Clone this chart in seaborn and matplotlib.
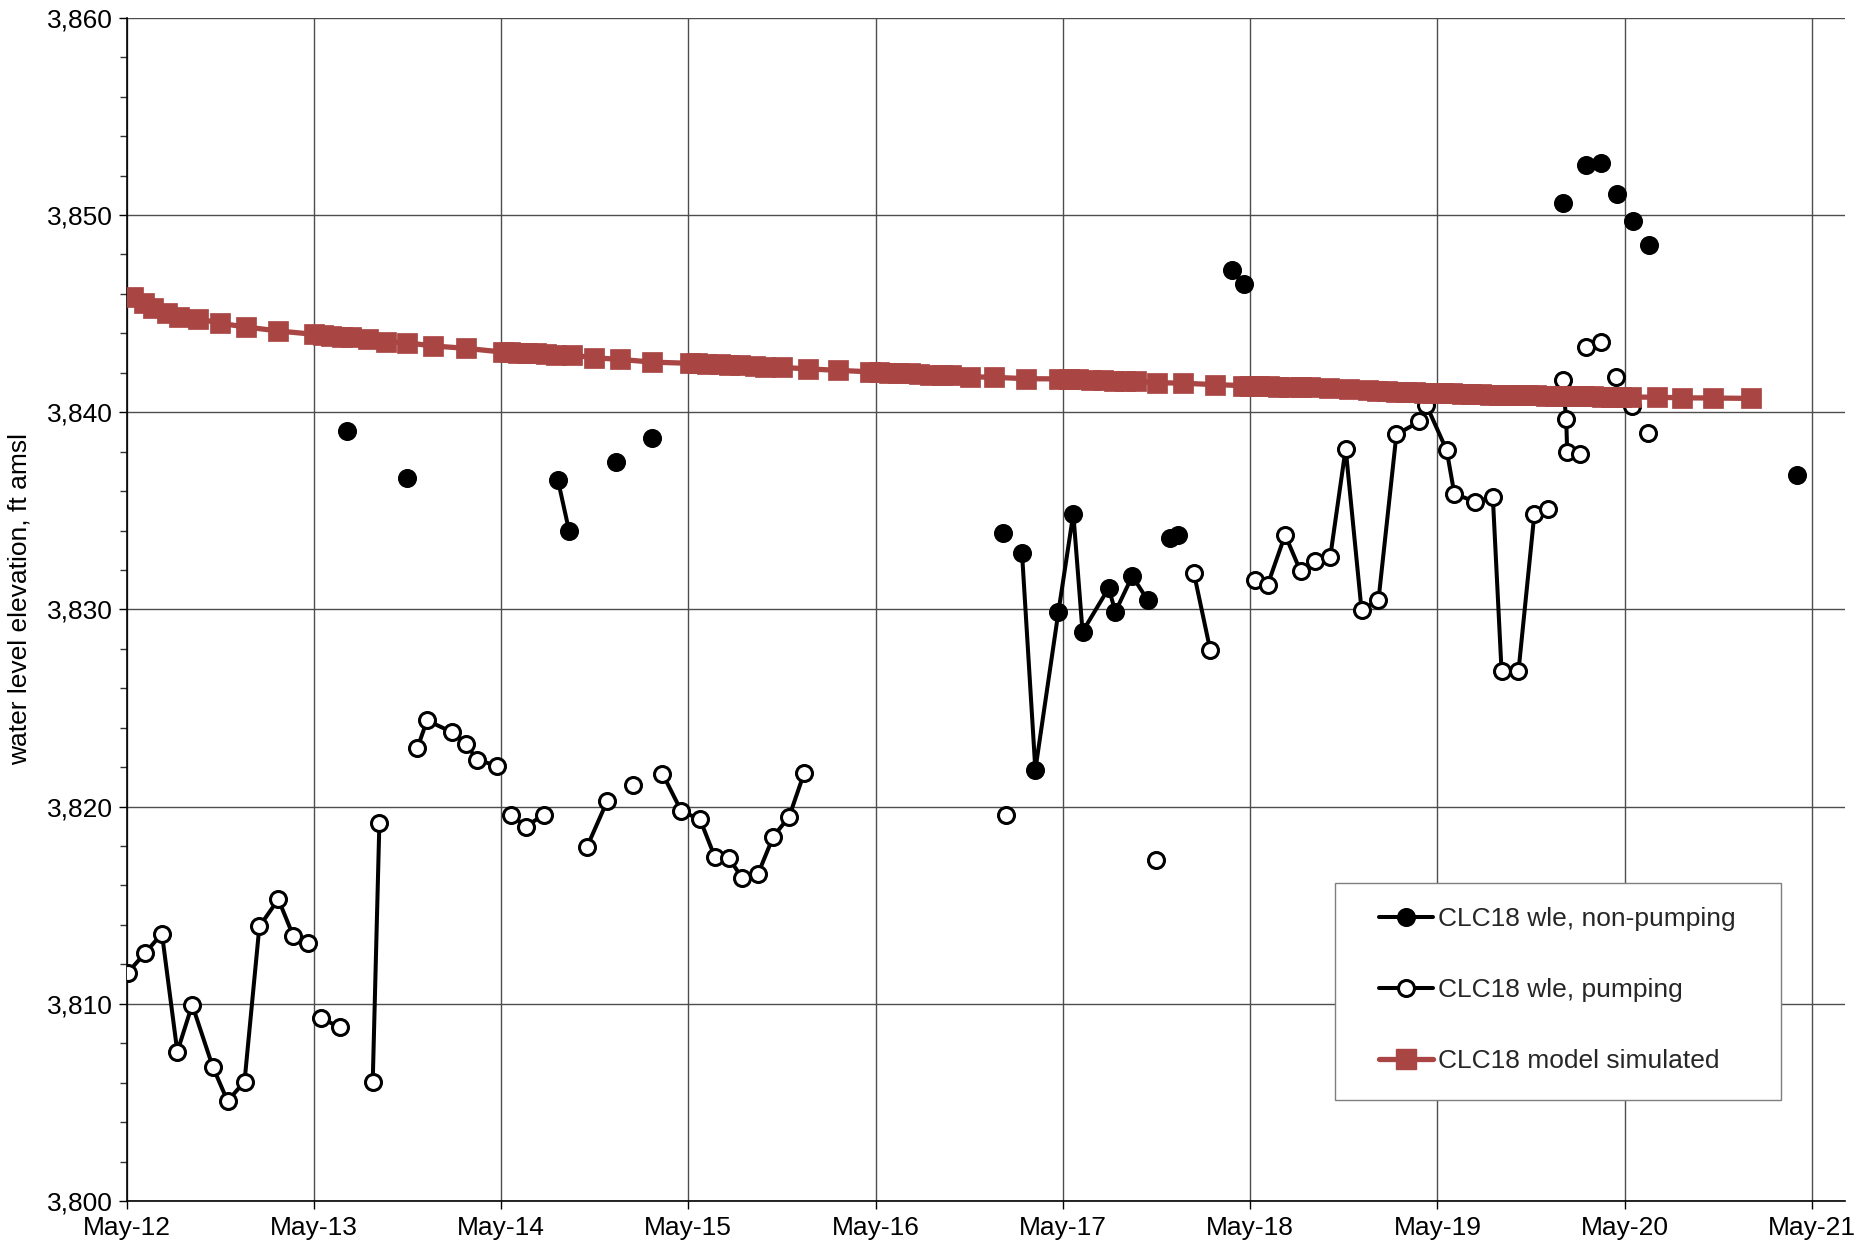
import matplotlib
matplotlib.use("Agg")
import matplotlib.pyplot as plt
import matplotlib.dates as mdates
import matplotlib.ticker as mticker
from matplotlib.lines import Line2D
from matplotlib.patches import Rectangle
import pandas as pd
import seaborn as sns

# --- Observed water levels, pumping (open circles); seg breaks the line ---
pump_dates = [
    "2012-05-03", "2012-06-06", "2012-07-09", "2012-08-08", "2012-09-06", "2012-10-16",
    "2012-11-14", "2012-12-17", "2013-01-15", "2013-02-21", "2013-03-22", "2013-04-20",
    "2013-05-16", "2013-06-21",
    "2013-08-24", "2013-09-06",
    "2013-11-19", "2013-12-08", "2014-01-25", "2014-02-21", "2014-03-16", "2014-04-23",
    "2014-05-20", "2014-06-19", "2014-07-23",
    "2014-10-16", "2014-11-24",
    "2015-01-13",
    "2015-03-12", "2015-04-18", "2015-05-24", "2015-06-22", "2015-07-20", "2015-08-14",
    "2015-09-14", "2015-10-14", "2015-11-14", "2015-12-13",
    "2017-01-09",
    "2017-10-30",
    "2018-01-11", "2018-02-12",
    "2018-05-11", "2018-06-04", "2018-07-08", "2018-08-07", "2018-09-05", "2018-10-04",
    "2018-11-03", "2018-12-04", "2019-01-06", "2019-02-10", "2019-03-27", "2019-04-09",
    "2019-05-19", "2019-06-03", "2019-07-14", "2019-08-17", "2019-09-03", "2019-10-06",
    "2019-11-06", "2019-12-02",
    "2019-12-31", "2020-01-07", "2020-01-09", "2020-02-03",
    "2020-02-14",
    "2020-03-14",
    "2020-04-14",
    "2020-05-15",
    "2020-06-15",
]
pump_wle = [
    3811.57, 3812.57, 3813.56, 3807.57, 3809.95, 3806.81,
    3805.07, 3806.05, 3813.92, 3815.30, 3813.45, 3813.06,
    3809.27, 3808.80,
    3806.05, 3819.19,
    3822.97, 3824.37, 3823.78, 3823.19, 3822.38, 3822.06,
    3819.59, 3818.99, 3819.59,
    3817.97, 3820.27,
    3821.08,
    3821.67, 3819.76, 3819.36, 3817.45, 3817.37, 3816.39,
    3816.57, 3818.48, 3819.49, 3821.69,
    3819.58,
    3817.28,
    3831.86, 3827.94,
    3831.47, 3831.25, 3833.78, 3831.94, 3832.45, 3832.67,
    3838.16, 3829.97, 3830.47, 3838.87, 3839.53, 3840.39,
    3838.07, 3835.86, 3835.46, 3835.69, 3826.87, 3826.87,
    3834.85, 3835.07,
    3841.62, 3839.68, 3837.99, 3837.89,
    3843.32,
    3843.57,
    3841.78,
    3840.34,
    3838.95,
]
pump_seg = (
    [1] * 12 + [2] * 2 + [3] * 2 + [4] * 6 + [5] * 3 + [6] * 2 + [7] + [8] * 10 + [9] + [10]
    + [11] * 2 + [12] * 20 + [13] * 4 + [14] + [15] + [16] + [17] + [18]
)

# --- Observed water levels, non-pumping (filled circles) ---
static_dates = [
    "2013-07-04",
    "2013-10-30",
    "2014-08-20", "2014-09-11",
    "2014-12-12",
    "2015-02-19",
    "2017-01-04",
    "2017-02-10", "2017-03-08", "2017-04-22", "2017-05-21", "2017-06-08", "2017-07-29",
    "2017-08-11", "2017-09-13", "2017-10-13",
    "2017-11-26", "2017-12-12",
    "2018-03-26", "2018-04-18",
    "2020-01-01",
    "2020-02-15",
    "2020-03-15",
    "2020-04-15",
    "2020-05-16",
    "2020-06-16",
    "2021-04-02",
]
static_wle = [
    3839.07,
    3836.67,
    3836.57, 3833.97,
    3837.47,
    3838.67,
    3833.85,
    3832.85, 3821.87, 3829.88, 3834.85, 3828.87, 3831.08,
    3829.88, 3831.69, 3830.47,
    3833.60, 3833.77,
    3847.19, 3846.48,
    3850.59,
    3852.52,
    3852.64,
    3851.06,
    3849.71,
    3848.46,
    3836.82,
]
static_seg = [1, 2, 3, 3, 4, 5, 6] + [7] * 9 + [8, 8, 9, 9, 10, 11, 12, 13, 14, 15, 16]

# --- Model simulated water levels ---
model_dates = [
    "2012-05-14", "2012-06-04", "2012-06-21", "2012-07-18", "2012-08-11", "2012-09-18",
    "2012-10-30", "2012-12-20", "2013-02-21", "2013-05-02", "2013-05-19", "2013-06-03",
    "2013-06-25", "2013-07-13", "2013-08-14", "2013-09-19", "2013-10-30", "2013-12-20",
    "2014-02-21", "2014-05-05", "2014-05-19", "2014-06-04", "2014-06-21", "2014-07-09",
    "2014-07-28", "2014-08-17", "2014-09-16", "2014-10-30", "2014-12-19", "2015-02-20",
    "2015-05-05", "2015-05-19", "2015-06-06", "2015-07-02", "2015-07-20", "2015-08-11",
    "2015-09-09", "2015-09-28", "2015-10-31", "2015-12-21", "2016-02-18", "2016-04-20",
    "2016-05-08", "2016-05-26", "2016-06-14", "2016-07-06", "2016-07-24", "2016-08-15",
    "2016-09-06", "2016-09-24", "2016-10-31", "2016-12-18", "2017-02-18", "2017-04-24",
    "2017-05-12", "2017-05-30", "2017-06-25", "2017-07-17", "2017-08-08", "2017-08-30",
    "2017-09-21", "2017-10-31", "2017-12-21", "2018-02-21", "2018-04-16", "2018-05-01",
    "2018-05-19", "2018-06-06", "2018-06-24", "2018-07-16", "2018-08-07", "2018-08-26",
    "2018-10-01", "2018-11-10", "2018-12-17", "2019-01-04", "2019-01-22", "2019-02-10",
    "2019-02-28", "2019-03-18", "2019-04-05", "2019-04-23", "2019-05-12", "2019-05-30",
    "2019-06-17", "2019-07-06", "2019-07-24", "2019-08-11", "2019-08-29", "2019-09-17",
    "2019-10-05", "2019-10-23", "2019-11-10", "2019-11-29", "2019-12-17", "2020-01-04",
    "2020-01-22", "2020-02-10", "2020-02-28", "2020-03-17", "2020-04-04", "2020-04-23",
    "2020-05-12", "2020-07-02", "2020-08-19", "2020-10-20", "2021-01-01",
]
model_wle = [
    3845.84, 3845.52, 3845.30, 3845.01, 3844.84, 3844.74,
    3844.51, 3844.32, 3844.12, 3843.95, 3843.90, 3843.85,
    3843.83, 3843.81, 3843.69, 3843.58, 3843.52, 3843.36,
    3843.24, 3843.05, 3843.04, 3843.02, 3843.00, 3842.98,
    3842.93, 3842.90, 3842.90, 3842.76, 3842.68, 3842.54,
    3842.48, 3842.48, 3842.46, 3842.43, 3842.41, 3842.39,
    3842.33, 3842.30, 3842.27, 3842.20, 3842.12, 3842.05,
    3842.03, 3842.01, 3842.00, 3841.97, 3841.93, 3841.91,
    3841.89, 3841.87, 3841.80, 3841.77, 3841.70, 3841.69,
    3841.68, 3841.66, 3841.63, 3841.61, 3841.60, 3841.58,
    3841.56, 3841.50, 3841.47, 3841.40, 3841.35, 3841.34,
    3841.32, 3841.31, 3841.30, 3841.29, 3841.27, 3841.26,
    3841.22, 3841.18, 3841.12, 3841.09, 3841.06, 3841.03,
    3841.01, 3841.00, 3840.99, 3840.98, 3840.97, 3840.96,
    3840.94, 3840.91, 3840.90, 3840.89, 3840.88, 3840.88,
    3840.87, 3840.86, 3840.86, 3840.83, 3840.82, 3840.81,
    3840.81, 3840.80, 3840.80, 3840.79, 3840.78, 3840.78,
    3840.77, 3840.76, 3840.73, 3840.72, 3840.70,
]

labels = ["CLC18 wle, non-pumping", "CLC18 wle, pumping", "CLC18 model simulated"]
model_red = "#A94542"

pump_df = pd.DataFrame({"date": pd.to_datetime(pump_dates), "wle": pump_wle, "seg": pump_seg})
static_df = pd.DataFrame({"date": pd.to_datetime(static_dates), "wle": static_wle, "seg": static_seg})
model_df = pd.DataFrame({"date": pd.to_datetime(model_dates), "wle": model_wle})

sns.set_theme(style="white")
plt.rcParams["font.family"] = ["Liberation Sans", "DejaVu Sans"]

fig = plt.figure(figsize=(18.72, 12.47), dpi=100)
ax = fig.add_axes([0.0676, 0.0369, 0.9178, 0.9488])

obs_lw = 2.9
obs_ms = 11.5
obs_mew = 2.2
circle_kw = dict(color="black", linewidth=obs_lw, marker="o", markersize=obs_ms,
                 markeredgecolor="black", markeredgewidth=obs_mew)

sns.lineplot(data=pump_df, x="date", y="wle", units="seg", estimator=None, ax=ax,
             markerfacecolor="white", zorder=3, **circle_kw)
sns.lineplot(data=static_df, x="date", y="wle", units="seg", estimator=None, ax=ax,
             markerfacecolor="black", zorder=3, **circle_kw)
sns.lineplot(data=model_df, x="date", y="wle", estimator=None, ax=ax,
             color=model_red, linewidth=3.8, marker="s", markersize=14,
             markerfacecolor=model_red, markeredgecolor=model_red, markeredgewidth=0.5,
             zorder=4)

# axes, ticks and grid
ax.set_xlim(pd.Timestamp("2012-05-01"), pd.Timestamp("2021-07-03"))
ax.set_ylim(3800, 3860)
ax.xaxis.set_major_locator(mdates.MonthLocator(bymonth=5, bymonthday=1))
ax.xaxis.set_major_formatter(mdates.DateFormatter("%b-%y"))
ax.yaxis.set_major_locator(mticker.MultipleLocator(10))
ax.yaxis.set_minor_locator(mticker.MultipleLocator(2))
ax.yaxis.set_major_formatter(mticker.FuncFormatter(lambda v, p: f"{v:,.0f}"))

ax.grid(True, which="major", color="#4d4d4d", linewidth=1.0)
ax.set_axisbelow(True)
for side in ("top", "right"):
    ax.spines[side].set_visible(False)
for side in ("left", "bottom"):
    ax.spines[side].set_color("black")
    ax.spines[side].set_linewidth(1.2)

ax.tick_params(axis="both", which="major", direction="out", length=6, width=1,
               color="black", labelsize=19, labelcolor="black", left=True, bottom=True)
ax.tick_params(axis="y", which="minor", direction="out", length=5, width=1,
               color="#333333", left=True)
ax.tick_params(axis="x", pad=5)
ax.tick_params(axis="y", pad=4)

ax.set_xlabel("")
ax.set_ylabel("water level elevation, ft amsl", fontsize=19, color="black")
ax.yaxis.set_label_coords(-0.0555, 0.509)

# legend with a square frame
ax.add_patch(Rectangle((0.7034, 0.0854), 0.2596, 0.1834, transform=ax.transAxes,
                       facecolor="white", edgecolor="#7f7f7f", linewidth=1.0, zorder=5))
handles = [
    Line2D([], [], color="black", linewidth=obs_lw, marker="o", markersize=obs_ms,
           markerfacecolor="black", markeredgecolor="black", markeredgewidth=obs_mew),
    Line2D([], [], color="black", linewidth=obs_lw, marker="o", markersize=obs_ms,
           markerfacecolor="white", markeredgecolor="black", markeredgewidth=obs_mew),
    Line2D([], [], color=model_red, linewidth=3.8, marker="s", markersize=14,
           markerfacecolor=model_red, markeredgecolor=model_red),
]
leg = ax.legend(handles, labels, loc="upper left", bbox_to_anchor=(0.729, 0.2485),
                frameon=False, fontsize=19, borderpad=0, borderaxespad=0,
                handlelength=2.05, handletextpad=0.2, labelspacing=1.78)
leg.set_zorder(6)

fig.savefig("out.png", dpi=100)
